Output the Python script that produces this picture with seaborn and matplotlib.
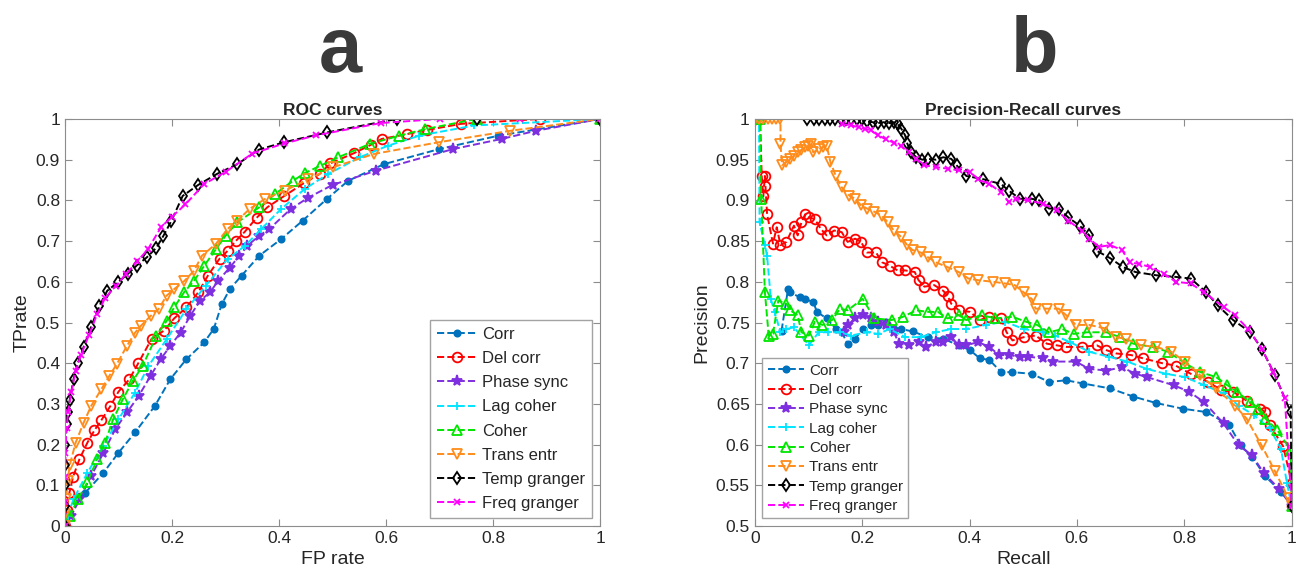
import seaborn as sns
import matplotlib.pyplot as plt

# ---- ROC data (FP rate, TP rate) ----
roc_corr_x = [0, 0.01, 0.038, 0.072, 0.1, 0.131, 0.168, 0.197, 0.227, 0.26, 0.278, 0.293, 0.308, 0.33, 0.363, 0.404, 0.444, 0.489, 0.529, 0.596, 0.699, 0.81, 1]
roc_corr_y = [0, 0.03, 0.082, 0.131, 0.18, 0.23, 0.295, 0.361, 0.41, 0.451, 0.484, 0.545, 0.582, 0.615, 0.664, 0.705, 0.75, 0.803, 0.848, 0.889, 0.926, 0.959, 1]
roc_delcorr_x = [0, 0.003, 0.008, 0.015, 0.027, 0.042, 0.055, 0.068, 0.085, 0.1, 0.12, 0.137, 0.162, 0.185, 0.204, 0.227, 0.249, 0.267, 0.289, 0.304, 0.319, 0.336, 0.358, 0.378, 0.41, 0.446, 0.476, 0.496, 0.54, 0.571, 0.592, 0.64, 0.677, 0.74, 0.887, 1]
roc_delcorr_y = [0, 0.04, 0.08, 0.12, 0.164, 0.205, 0.235, 0.26, 0.295, 0.33, 0.36, 0.4, 0.46, 0.48, 0.51, 0.537, 0.574, 0.615, 0.657, 0.676, 0.7, 0.723, 0.757, 0.783, 0.811, 0.842, 0.865, 0.891, 0.916, 0.936, 0.951, 0.963, 0.973, 0.988, 1.0, 1]
roc_phase_x = [0, 0.012, 0.027, 0.049, 0.072, 0.094, 0.116, 0.138, 0.16, 0.179, 0.197, 0.216, 0.234, 0.252, 0.271, 0.286, 0.308, 0.326, 0.341, 0.363, 0.382, 0.422, 0.455, 0.5, 0.581, 0.725, 0.816, 0.88, 1]
roc_phase_y = [0, 0.025, 0.066, 0.123, 0.18, 0.238, 0.279, 0.32, 0.369, 0.41, 0.443, 0.475, 0.516, 0.553, 0.574, 0.602, 0.635, 0.664, 0.689, 0.713, 0.73, 0.779, 0.807, 0.838, 0.873, 0.926, 0.951, 0.971, 1]
roc_lag_x = [0, 0.005, 0.016, 0.042, 0.072, 0.1, 0.131, 0.156, 0.19, 0.227, 0.263, 0.304, 0.337, 0.367, 0.404, 0.448, 0.492, 0.551, 0.603, 0.662, 0.765, 1]
roc_lag_y = [0, 0.025, 0.066, 0.131, 0.197, 0.262, 0.328, 0.393, 0.459, 0.533, 0.59, 0.656, 0.689, 0.73, 0.779, 0.828, 0.865, 0.906, 0.934, 0.959, 0.984, 1]
roc_coher_x = [0, 0.009, 0.024, 0.042, 0.06, 0.075, 0.09, 0.108, 0.127, 0.145, 0.171, 0.19, 0.204, 0.223, 0.241, 0.26, 0.282, 0.3, 0.322, 0.363, 0.393, 0.426, 0.448, 0.477, 0.511, 0.57, 0.625, 0.673, 0.769, 1]
roc_coher_y = [0, 0.025, 0.066, 0.107, 0.164, 0.205, 0.262, 0.311, 0.357, 0.393, 0.467, 0.504, 0.537, 0.575, 0.602, 0.639, 0.68, 0.713, 0.746, 0.783, 0.816, 0.848, 0.867, 0.885, 0.906, 0.939, 0.959, 0.975, 1.0, 1]
roc_trans_x = [0, 0, 0.002, 0.005, 0.009, 0.02, 0.035, 0.049, 0.068, 0.083, 0.097, 0.116, 0.131, 0.142, 0.16, 0.175, 0.19, 0.204, 0.223, 0.241, 0.256, 0.282, 0.304, 0.322, 0.345, 0.373, 0.411, 0.455, 0.5, 0.577, 0.699, 0.832, 1]
roc_trans_y = [0, 0.03, 0.066, 0.11, 0.15, 0.205, 0.254, 0.295, 0.336, 0.369, 0.398, 0.443, 0.475, 0.492, 0.516, 0.533, 0.566, 0.582, 0.602, 0.627, 0.664, 0.693, 0.73, 0.75, 0.779, 0.803, 0.824, 0.852, 0.881, 0.914, 0.943, 0.971, 1]
roc_temp_x = [0, 0, 0, 0, 0.001, 0.003, 0.005, 0.009, 0.016, 0.024, 0.035, 0.049, 0.064, 0.079, 0.1, 0.118, 0.134, 0.153, 0.171, 0.184, 0.199, 0.22, 0.249, 0.284, 0.322, 0.363, 0.41, 0.49, 0.62, 0.77, 1]
roc_temp_y = [0, 0.05, 0.1, 0.15, 0.2, 0.25, 0.28, 0.31, 0.36, 0.4, 0.44, 0.49, 0.54, 0.578, 0.6, 0.62, 0.64, 0.66, 0.684, 0.713, 0.75, 0.811, 0.838, 0.865, 0.889, 0.925, 0.943, 0.967, 1.0, 1.0, 1]
roc_freq_x = [0, 0, 0, 0.001, 0.003, 0.006, 0.012, 0.02, 0.03, 0.045, 0.06, 0.075, 0.095, 0.115, 0.135, 0.155, 0.18, 0.2, 0.225, 0.26, 0.3, 0.35, 0.41, 0.47, 0.59, 0.7, 0.85, 1]
roc_freq_y = [0, 0.06, 0.12, 0.18, 0.24, 0.28, 0.33, 0.38, 0.42, 0.47, 0.52, 0.56, 0.59, 0.62, 0.65, 0.68, 0.735, 0.76, 0.79, 0.84, 0.87, 0.915, 0.94, 0.96, 0.99, 1.0, 1.0, 1]

# ---- Precision-Recall data (recall, precision) ----
pr_corr_x = [0.05, 0.062, 0.066, 0.084, 0.094, 0.109, 0.116, 0.134, 0.151, 0.162, 0.173, 0.187, 0.201, 0.216, 0.23, 0.244, 0.259, 0.273, 0.294, 0.323, 0.351, 0.38, 0.401, 0.419, 0.437, 0.459, 0.48, 0.516, 0.548, 0.58, 0.612, 0.662, 0.705, 0.748, 0.798, 0.841, 0.884, 0.905, 0.926, 0.951, 0.98, 1]
pr_corr_y = [0.74, 0.791, 0.787, 0.781, 0.779, 0.775, 0.763, 0.755, 0.742, 0.738, 0.724, 0.73, 0.742, 0.747, 0.747, 0.751, 0.742, 0.742, 0.739, 0.732, 0.73, 0.722, 0.716, 0.706, 0.704, 0.689, 0.689, 0.687, 0.677, 0.679, 0.675, 0.669, 0.659, 0.651, 0.644, 0.64, 0.624, 0.599, 0.585, 0.561, 0.542, 0.525]
pr_delcorr_x = [0, 0.01, 0.013, 0.016, 0.019, 0.02, 0.023, 0.034, 0.041, 0.048, 0.059, 0.073, 0.08, 0.087, 0.094, 0.101, 0.112, 0.123, 0.134, 0.148, 0.162, 0.173, 0.187, 0.198, 0.209, 0.226, 0.237, 0.251, 0.266, 0.28, 0.298, 0.305, 0.316, 0.334, 0.351, 0.359, 0.366, 0.38, 0.401, 0.419, 0.437, 0.459, 0.469, 0.48, 0.501, 0.523, 0.544, 0.562, 0.58, 0.609, 0.637, 0.655, 0.673, 0.701, 0.723, 0.759, 0.784, 0.812, 0.844, 0.869, 0.891, 0.916, 0.941, 0.951, 0.959, 0.984, 1, 1]
pr_delcorr_y = [1, 1, 0.93, 0.905, 0.93, 0.918, 0.883, 0.847, 0.867, 0.845, 0.849, 0.869, 0.857, 0.873, 0.883, 0.879, 0.877, 0.865, 0.857, 0.863, 0.861, 0.849, 0.853, 0.849, 0.836, 0.836, 0.824, 0.82, 0.814, 0.814, 0.812, 0.802, 0.794, 0.796, 0.789, 0.783, 0.773, 0.765, 0.763, 0.753, 0.757, 0.755, 0.738, 0.728, 0.732, 0.734, 0.724, 0.722, 0.72, 0.72, 0.722, 0.716, 0.712, 0.71, 0.706, 0.7, 0.697, 0.687, 0.677, 0.667, 0.665, 0.654, 0.644, 0.64, 0.624, 0.598, 0.553, 0.525]
pr_phase_x = [0.166, 0.173, 0.187, 0.201, 0.216, 0.23, 0.244, 0.259, 0.269, 0.287, 0.305, 0.319, 0.337, 0.351, 0.366, 0.38, 0.394, 0.416, 0.437, 0.455, 0.473, 0.494, 0.509, 0.537, 0.555, 0.598, 0.623, 0.655, 0.684, 0.709, 0.73, 0.78, 0.809, 0.837, 0.873, 0.901, 0.926, 0.948, 0.976, 1]
pr_phase_y = [0.738, 0.747, 0.755, 0.759, 0.755, 0.751, 0.747, 0.738, 0.724, 0.722, 0.726, 0.72, 0.726, 0.726, 0.732, 0.722, 0.722, 0.726, 0.72, 0.71, 0.71, 0.708, 0.708, 0.706, 0.702, 0.702, 0.693, 0.691, 0.695, 0.687, 0.683, 0.673, 0.665, 0.652, 0.626, 0.599, 0.587, 0.565, 0.546, 0.525]
pr_lag_x = [0, 0.008, 0.009, 0.019, 0.023, 0.03, 0.037, 0.048, 0.059, 0.073, 0.101, 0.119, 0.137, 0.159, 0.18, 0.209, 0.23, 0.251, 0.28, 0.309, 0.337, 0.366, 0.394, 0.43, 0.466, 0.501, 0.537, 0.559, 0.587, 0.623, 0.659, 0.694, 0.73, 0.766, 0.801, 0.837, 0.873, 0.901, 0.93, 0.959, 0.98, 0.991, 1]
pr_lag_y = [1, 1, 0.873, 0.845, 0.832, 0.779, 0.763, 0.738, 0.742, 0.744, 0.722, 0.738, 0.738, 0.738, 0.734, 0.738, 0.736, 0.742, 0.732, 0.732, 0.738, 0.742, 0.742, 0.747, 0.751, 0.742, 0.738, 0.734, 0.726, 0.714, 0.708, 0.702, 0.693, 0.687, 0.683, 0.673, 0.663, 0.648, 0.636, 0.62, 0.595, 0.553, 0.525]
pr_coher_x = [0, 0.01, 0.012, 0.019, 0.026, 0.034, 0.044, 0.059, 0.066, 0.08, 0.087, 0.101, 0.112, 0.126, 0.144, 0.159, 0.173, 0.201, 0.223, 0.255, 0.276, 0.301, 0.323, 0.341, 0.359, 0.38, 0.394, 0.423, 0.448, 0.48, 0.505, 0.526, 0.548, 0.573, 0.594, 0.619, 0.655, 0.68, 0.705, 0.741, 0.77, 0.801, 0.83, 0.859, 0.88, 0.898, 0.923, 0.937, 0.951, 0.973, 0.998, 1]
pr_coher_y = [1, 1, 0.902, 0.787, 0.734, 0.736, 0.777, 0.773, 0.765, 0.759, 0.738, 0.734, 0.751, 0.747, 0.753, 0.767, 0.765, 0.779, 0.755, 0.753, 0.757, 0.765, 0.763, 0.763, 0.755, 0.759, 0.753, 0.759, 0.755, 0.757, 0.751, 0.747, 0.738, 0.742, 0.736, 0.738, 0.738, 0.732, 0.724, 0.72, 0.714, 0.7, 0.689, 0.683, 0.673, 0.665, 0.652, 0.644, 0.632, 0.618, 0.593, 0.525]
pr_trans_x = [0, 0.008, 0.016, 0.024, 0.032, 0.04, 0.048, 0.048, 0.051, 0.058, 0.066, 0.073, 0.08, 0.087, 0.094, 0.1, 0.105, 0.109, 0.119, 0.127, 0.134, 0.141, 0.151, 0.162, 0.176, 0.187, 0.198, 0.209, 0.223, 0.237, 0.248, 0.259, 0.273, 0.284, 0.294, 0.309, 0.323, 0.337, 0.359, 0.38, 0.398, 0.416, 0.444, 0.466, 0.484, 0.501, 0.516, 0.523, 0.544, 0.566, 0.58, 0.598, 0.623, 0.651, 0.673, 0.691, 0.719, 0.748, 0.776, 0.801, 0.83, 0.859, 0.894, 0.916, 0.944, 0.969, 0.994, 1]
pr_trans_y = [1, 1, 1, 1, 1, 1, 1, 0.969, 0.943, 0.947, 0.951, 0.955, 0.959, 0.962, 0.965, 0.967, 0.969, 0.959, 0.963, 0.965, 0.967, 0.947, 0.93, 0.916, 0.906, 0.902, 0.894, 0.89, 0.886, 0.881, 0.873, 0.863, 0.855, 0.845, 0.839, 0.836, 0.83, 0.824, 0.818, 0.812, 0.804, 0.802, 0.8, 0.798, 0.796, 0.787, 0.779, 0.767, 0.767, 0.767, 0.759, 0.747, 0.747, 0.743, 0.732, 0.73, 0.722, 0.72, 0.714, 0.702, 0.685, 0.669, 0.648, 0.632, 0.599, 0.567, 0.534, 0.525]
pr_temp_x = [0.097, 0.11, 0.12, 0.13, 0.14, 0.15, 0.16, 0.17, 0.18, 0.19, 0.2, 0.21, 0.22, 0.23, 0.24, 0.25, 0.259, 0.266, 0.273, 0.28, 0.284, 0.291, 0.301, 0.312, 0.323, 0.337, 0.351, 0.366, 0.376, 0.394, 0.426, 0.459, 0.473, 0.494, 0.516, 0.53, 0.548, 0.566, 0.584, 0.605, 0.623, 0.637, 0.662, 0.686, 0.709, 0.748, 0.784, 0.812, 0.841, 0.862, 0.891, 0.923, 0.944, 0.969, 0.998, 1]
pr_temp_y = [1, 1, 1, 1, 1, 1, 1, 1, 1, 1, 1, 0.997, 0.996, 0.995, 0.996, 0.995, 0.996, 0.994, 0.988, 0.98, 0.97, 0.959, 0.953, 0.95, 0.951, 0.95, 0.953, 0.951, 0.943, 0.93, 0.926, 0.92, 0.912, 0.902, 0.902, 0.9, 0.89, 0.89, 0.879, 0.869, 0.857, 0.838, 0.829, 0.818, 0.812, 0.808, 0.806, 0.804, 0.787, 0.771, 0.753, 0.738, 0.718, 0.685, 0.64, 0.525]
pr_freq_x = [0.162, 0.18, 0.194, 0.205, 0.216, 0.23, 0.244, 0.259, 0.273, 0.287, 0.301, 0.316, 0.337, 0.359, 0.38, 0.401, 0.416, 0.437, 0.459, 0.473, 0.487, 0.509, 0.537, 0.562, 0.584, 0.609, 0.623, 0.641, 0.662, 0.684, 0.698, 0.716, 0.737, 0.762, 0.784, 0.812, 0.837, 0.873, 0.894, 0.919, 0.944, 0.966, 0.987, 1]
pr_freq_y = [0.994, 0.992, 0.99, 0.988, 0.986, 0.98, 0.975, 0.971, 0.967, 0.959, 0.951, 0.943, 0.941, 0.939, 0.937, 0.935, 0.926, 0.92, 0.91, 0.898, 0.902, 0.9, 0.896, 0.888, 0.875, 0.863, 0.853, 0.843, 0.845, 0.839, 0.824, 0.822, 0.818, 0.81, 0.8, 0.798, 0.787, 0.769, 0.759, 0.742, 0.718, 0.689, 0.657, 0.525]

names = ["Corr", "Del corr", "Phase sync", "Lag coher", "Coher", "Trans entr", "Temp granger", "Freq granger"]
colors = ["#0072BD", "#FF0000", "#7E2FE0", "#00E5FF", "#00E600", "#FF8C1A", "#000000", "#FF00FF"]
markers = [".", "o", "*", "+", "^", "v", "d", "x"]
hollow = [False, True, False, False, True, True, True, False]
msizes = [9, 7, 8, 6, 7, 7, 6, 5]

roc = [(roc_corr_x, roc_corr_y), (roc_delcorr_x, roc_delcorr_y), (roc_phase_x, roc_phase_y),
       (roc_lag_x, roc_lag_y), (roc_coher_x, roc_coher_y), (roc_trans_x, roc_trans_y),
       (roc_temp_x, roc_temp_y), (roc_freq_x, roc_freq_y)]
pr = [(pr_corr_x, pr_corr_y), (pr_delcorr_x, pr_delcorr_y), (pr_phase_x, pr_phase_y),
      (pr_lag_x, pr_lag_y), (pr_coher_x, pr_coher_y), (pr_trans_x, pr_trans_y),
      (pr_temp_x, pr_temp_y), (pr_freq_x, pr_freq_y)]

sns.set_style("white")
plt.rcParams['font.family'] = ['Liberation Sans', 'DejaVu Sans']

fig = plt.figure(figsize=(12.99, 5.79), dpi=100)
ax_1 = fig.add_axes([0.050, 0.0915, 0.412, 0.703])
ax_2 = fig.add_axes([0.581, 0.0915, 0.4134, 0.703])


def draw_curves(ax, data):
    for i, (xs, ys) in enumerate(data):
        sns.lineplot(x=xs, y=ys, ax=ax, sort=False, estimator=None,
                     color=colors[i], linestyle="--", linewidth=1.4,
                     marker=markers[i], markersize=msizes[i],
                     markerfacecolor="none" if hollow[i] else colors[i],
                     markeredgecolor=colors[i], markeredgewidth=1.3,
                     label=names[i])


def style_axes(ax):
    for sp in ax.spines.values():
        sp.set_color("#8c8c8c")
        sp.set_linewidth(0.8)
    ax.tick_params(direction="in", length=5, width=0.8, color="#8c8c8c",
                   labelsize=12.5, labelcolor="#262626",
                   top=True, right=True, bottom=True, left=True)


draw_curves(ax_1, roc)
ax_1.set_xlim(0, 1)
ax_1.set_ylim(0, 1)
ax_1.set_xticks([0, 0.2, 0.4, 0.6, 0.8, 1])
ax_1.set_xticklabels(["0", "0.2", "0.4", "0.6", "0.8", "1"])
ax_1.set_yticks([i / 10 for i in range(11)])
ax_1.set_yticklabels(["0"] + [f"{i/10:g}" for i in range(1, 10)] + ["1"])
ax_1.set_xlabel("FP rate", fontsize=14, color="#262626")
ax_1.set_ylabel("TPrate", fontsize=14, color="#262626")
ax_1.set_title("ROC curves", fontsize=12.5, fontweight="bold", pad=3)
style_axes(ax_1)
ax_1.legend(loc="lower right", fontsize=12, frameon=True, fancybox=False,
            edgecolor="#8c8c8c", handlelength=2.4, borderpad=0.4,
            labelspacing=0.55, handletextpad=0.3, borderaxespad=0.5)

draw_curves(ax_2, pr)
ax_2.set_xlim(0, 1)
ax_2.set_ylim(0.5, 1)
ax_2.set_xticks([0, 0.2, 0.4, 0.6, 0.8, 1])
ax_2.set_xticklabels(["0", "0.2", "0.4", "0.6", "0.8", "1"])
ax_2.set_yticks([0.5, 0.55, 0.6, 0.65, 0.7, 0.75, 0.8, 0.85, 0.9, 0.95, 1])
ax_2.set_yticklabels(["0.5", "0.55", "0.6", "0.65", "0.7", "0.75", "0.8", "0.85", "0.9", "0.95", "1"])
ax_2.set_xlabel("Recall", fontsize=14, color="#262626")
ax_2.set_ylabel("Precision", fontsize=14, color="#262626")
ax_2.set_title("Precision-Recall curves", fontsize=12.5, fontweight="bold", pad=3)
style_axes(ax_2)
ax_2.legend(loc="lower left", fontsize=11, frameon=True, fancybox=False,
            edgecolor="#8c8c8c", handlelength=2.4, borderpad=0.35,
            labelspacing=0.35, handletextpad=0.3, borderaxespad=0.5)

fig.text(340 / 1299, 1 - 72 / 579, "a", fontsize=56, fontweight="bold",
         color="#3a3a3a", ha="center", va="baseline")
fig.text(1035 / 1299, 1 - 72 / 579, "b", fontsize=56, fontweight="bold",
         color="#3a3a3a", ha="center", va="baseline")

fig.savefig("out.png", dpi=100)
